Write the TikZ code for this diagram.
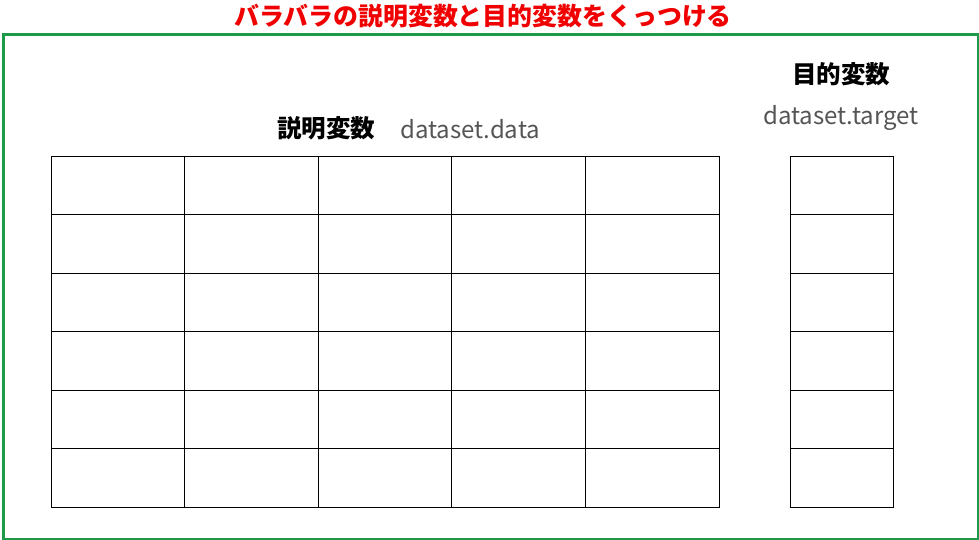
\documentclass[tikz,border=0pt]{standalone}
\usepackage{fontspec}
\newfontfamily\jp{Noto Sans CJK JP}
\definecolor{frameg}{RGB}{28,154,72}
\definecolor{titler}{RGB}{240,0,0}
\definecolor{codeg}{RGB}{85,85,85}
\begin{document}
\begin{tikzpicture}[x=1pt,y=-1pt,
  cell/.style={draw=black,line width=0.9pt,inner sep=0pt,minimum width=133.6pt,minimum height=58.5pt},
  tcell/.style={draw=black,line width=0.9pt,inner sep=0pt,minimum width=103pt,minimum height=58.5pt},
  jlabel/.style={font=\jp\bfseries\fontsize{24.5}{28}\selectfont,text=black,inner sep=0pt},
  code/.style={font=\jp\fontsize{24}{27}\selectfont,text=codeg,inner sep=0pt}]
\useasboundingbox (0,0) rectangle (979,540);
\node[draw=frameg,line width=3.2pt,inner sep=0pt,minimum width=975pt,minimum height=505pt,anchor=north west] (frame) at (1.6,33) {};
\node[font=\jp\bfseries\fontsize{24.9}{28}\selectfont,text=titler,inner sep=0pt] (title) at (483,16) {バラバラの説明変数と目的変数をくっつける};
\foreach \r in {1,...,6}{
  \foreach \c in {1,...,5}{
    \node[cell] (d-\r-\c) at ({51+133.6*(\c-0.5)},{156+58.5*(\r-0.5)}) {};
  }
  \node[tcell] (t-\r) at (841.5,{156+58.5*(\r-0.5)}) {};
}
\node[jlabel] (lx) at (326,128) {説明変数};
\node[code,anchor=west] (dx) at (400,129) {dataset.data};
\node[jlabel] (ly) at (841,74) {目的変数};
\node[code] (dy) at (841,118) {dataset.target};
\end{tikzpicture}
\end{document}
